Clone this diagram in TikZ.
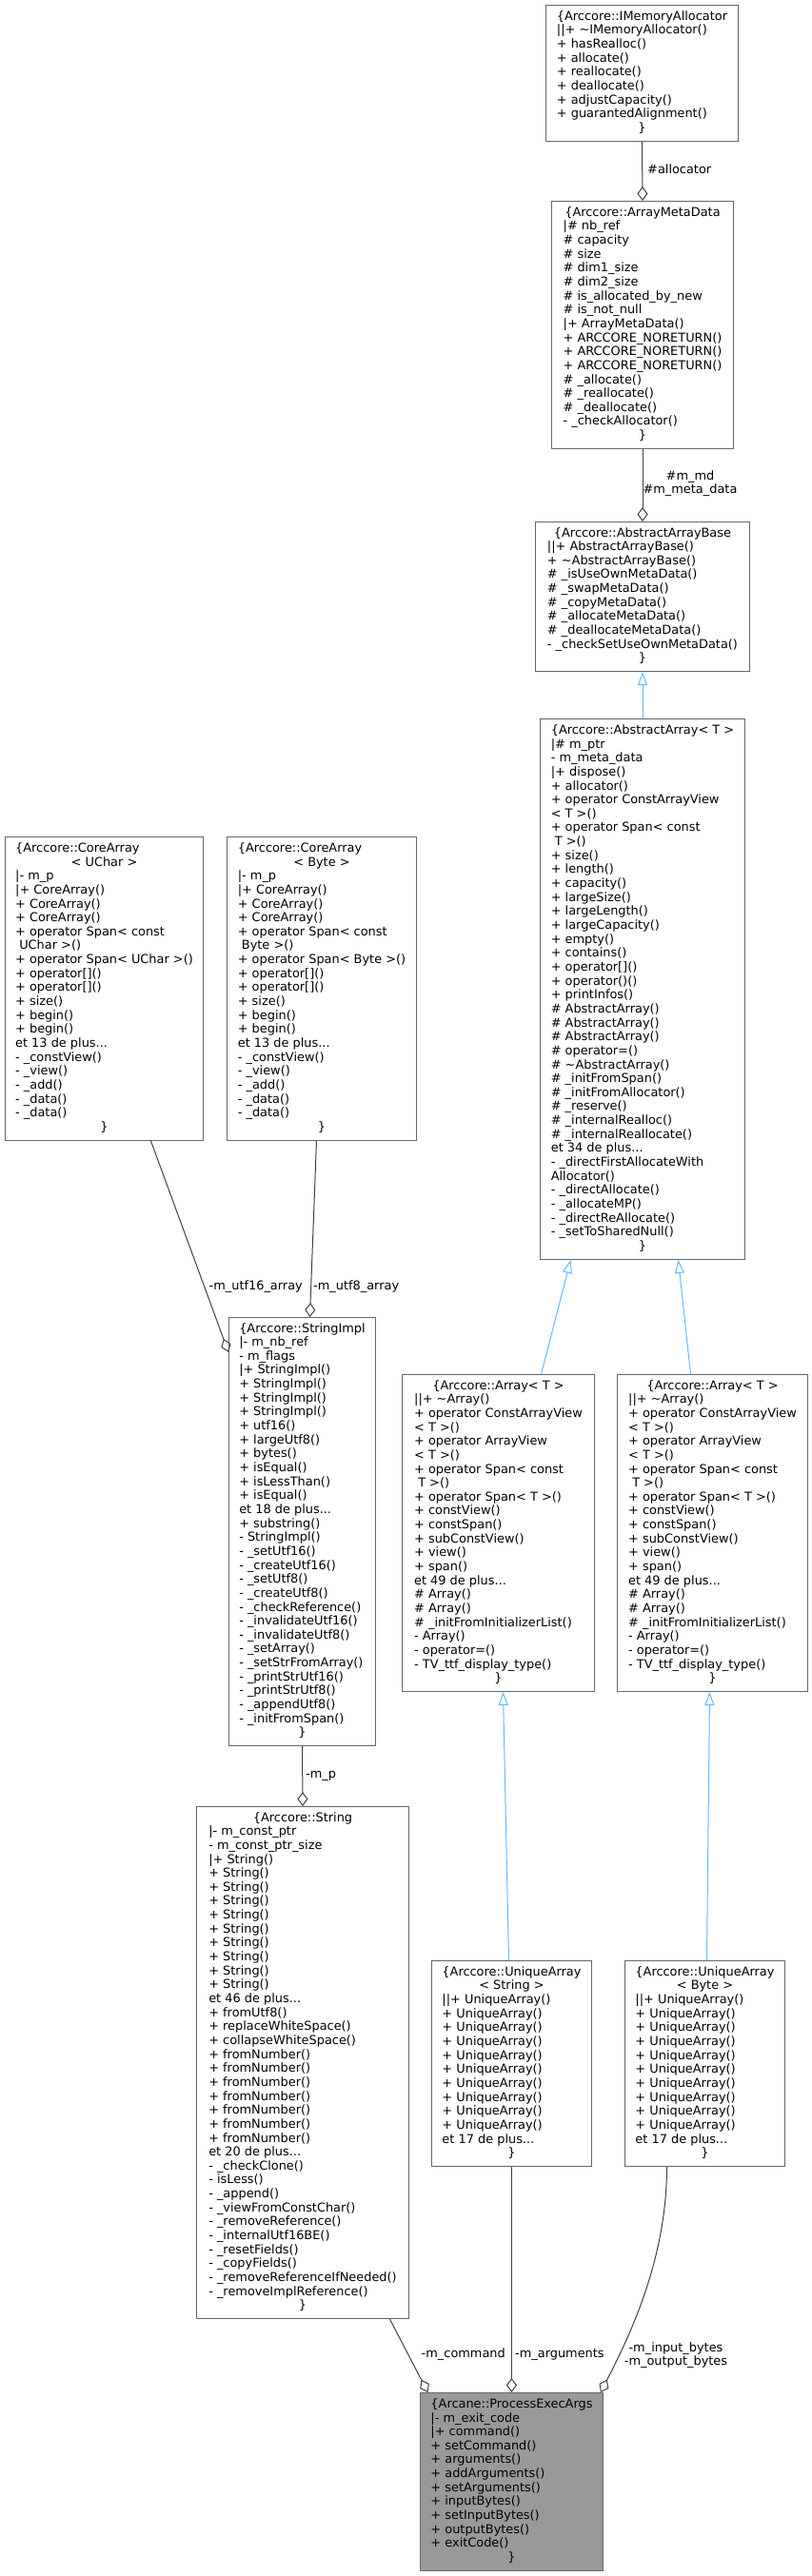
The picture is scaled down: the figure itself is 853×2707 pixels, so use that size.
\documentclass[tikz,border=0pt]{standalone}
\usepackage{fontspec}
\setmainfont{DejaVu Sans}
\usetikzlibrary{arrows.meta}
\definecolor{edgegray}{HTML}{404040}
\definecolor{inhblue}{HTML}{63B8FF}
\definecolor{boxborder}{HTML}{666666}
\definecolor{focusfill}{HTML}{999999}
\newcommand\clsT[1]{\multicolumn{1}{@{}c@{}}{#1}}
\newcommand\clsE{\multicolumn{1}{@{}c@{}}{\}}}
\newcommand\mytilde{\textasciitilde}
\newcommand\clsbody[1]{\begin{tabular}{@{}l@{}}#1\end{tabular}}
\begin{document}
\begin{tikzpicture}[x=1pt,y=-1pt,
  cls/.style={draw=boxborder, fill=white, line width=1pt, inner sep=1pt, anchor=north west,
    font=\fontsize{12.9}{14.65}\selectfont},
  focus/.style={cls, fill=focusfill},
  lbl/.style={inner sep=0pt, font=\fontsize{12.9}{14.65}\selectfont, align=center},
  aggr/.style={draw=edgegray, line width=1pt, -{Diamond[open, length=15pt, width=11pt, line width=1pt]}},
  inh/.style={draw=inhblue, line width=1pt, -{Triangle[open, length=14pt, width=10pt, line width=1pt]}}]
\useasboundingbox (0,0) rectangle (853,2707);

\node[cls, minimum width=202, minimum height=143] (imem) at (573,5) {\clsbody{
\clsT{\{Arccore::IMemoryAllocator}\\
||+ \mytilde IMemoryAllocator()\\
+ hasRealloc()\\
+ allocate()\\
+ reallocate()\\
+ deallocate()\\
+ adjustCapacity()\\
+ guarantedAlignment()\\
\clsE}};

\node[cls, minimum width=191, minimum height=260] (amd) at (579,211) {\clsbody{
\clsT{\{Arccore::ArrayMetaData}\\
|\# nb\_ref\\
\# capacity\\
\# size\\
\# dim1\_size\\
\# dim2\_size\\
\# is\_allocated\_by\_new\\
\# is\_not\_null\\
|+ ArrayMetaData()\\
+ ARCCORE\_NORETURN()\\
+ ARCCORE\_NORETURN()\\
+ ARCCORE\_NORETURN()\\
\# \_allocate()\\
\# \_reallocate()\\
\# \_deallocate()\\
- \_checkAllocator()\\
\clsE}};

\node[cls, minimum width=225, minimum height=157] (aab) at (562,548) {\clsbody{
\clsT{\{Arccore::AbstractArrayBase}\\
||+ AbstractArrayBase()\\
+ \mytilde AbstractArrayBase()\\
\# \_isUseOwnMetaData()\\
\# \_swapMetaData()\\
\# \_copyMetaData()\\
\# \_allocateMetaData()\\
\# \_deallocateMetaData()\\
- \_checkSetUseOwnMetaData()\\
\clsE}};

\node[cls, minimum width=215, minimum height=568] (aa) at (567,755) {\clsbody{
\clsT{\{Arccore::AbstractArray< T >}\\
|\# m\_ptr\\
- m\_meta\_data\\
|+ dispose()\\
+ allocator()\\
+ operator ConstArrayView\\
< T >()\\
+ operator Span< const\\
\ T >()\\
+ size()\\
+ length()\\
+ capacity()\\
+ largeSize()\\
+ largeLength()\\
+ largeCapacity()\\
+ empty()\\
+ contains()\\
+ operator[]()\\
+ operator()()\\
+ printInfos()\\
\# AbstractArray()\\
\# AbstractArray()\\
\# AbstractArray()\\
\# operator=()\\
\# \mytilde AbstractArray()\\
\# \_initFromSpan()\\
\# \_initFromAllocator()\\
\# \_reserve()\\
\# \_internalRealloc()\\
\# \_internalReallocate()\\
et 34 de plus...\\
- \_directFirstAllocateWith\\
Allocator()\\
- \_directAllocate()\\
- \_allocateMP()\\
- \_directReAllocate()\\
- \_setToSharedNull()\\
\clsE}};

\node[cls, minimum width=208, minimum height=319] (uchar) at (5,879) {\clsbody{
\{Arccore::CoreArray\\
\clsT{< UChar >}\\
|- m\_p\\
|+ CoreArray()\\
+ CoreArray()\\
+ CoreArray()\\
+ operator Span< const\\
\ UChar >()\\
+ operator Span< UChar >()\\
+ operator[]()\\
+ operator[]()\\
+ size()\\
+ begin()\\
+ begin()\\
et 13 de plus...\\
- \_constView()\\
- \_view()\\
- \_add()\\
- \_data()\\
- \_data()\\
\clsE}};

\node[cls, minimum width=199, minimum height=319] (byte) at (238,879) {\clsbody{
\{Arccore::CoreArray\\
\clsT{< Byte >}\\
|- m\_p\\
|+ CoreArray()\\
+ CoreArray()\\
+ CoreArray()\\
+ operator Span< const\\
\ Byte >()\\
+ operator Span< Byte >()\\
+ operator[]()\\
+ operator[]()\\
+ size()\\
+ begin()\\
+ begin()\\
et 13 de plus...\\
- \_constView()\\
- \_view()\\
- \_add()\\
- \_data()\\
- \_data()\\
\clsE}};

\node[cls, minimum width=154, minimum height=450] (strimpl) at (240,1384) {\clsbody{
\clsT{\{Arccore::StringImpl}\\
|- m\_nb\_ref\\
- m\_flags\\
|+ StringImpl()\\
+ StringImpl()\\
+ StringImpl()\\
+ StringImpl()\\
+ utf16()\\
+ largeUtf8()\\
+ bytes()\\
+ isEqual()\\
+ isLessThan()\\
+ isEqual()\\
et 18 de plus...\\
+ substring()\\
- StringImpl()\\
- \_setUtf16()\\
- \_createUtf16()\\
- \_setUtf8()\\
- \_createUtf8()\\
- \_checkReference()\\
- \_invalidateUtf16()\\
- \_invalidateUtf8()\\
- \_setArray()\\
- \_setStrFromArray()\\
- \_printStrUtf16()\\
- \_printStrUtf8()\\
- \_appendUtf8()\\
- \_initFromSpan()\\
\clsE}};

\node[cls, minimum width=202, minimum height=333] (arrS) at (422,1444) {\clsbody{
\clsT{\{Arccore::Array< T >}\\
||+ \mytilde Array()\\
+ operator ConstArrayView\\
< T >()\\
+ operator ArrayView\\
< T >()\\
+ operator Span< const\\
\ T >()\\
+ operator Span< T >()\\
+ constView()\\
+ constSpan()\\
+ subConstView()\\
+ view()\\
+ span()\\
et 49 de plus...\\
\# Array()\\
\# Array()\\
\# \_initFromInitializerList()\\
- Array()\\
- operator=()\\
- TV\_ttf\_display\_type()\\
\clsE}};

\node[cls, minimum width=200, minimum height=333] (arrB) at (648,1444) {\clsbody{
\clsT{\{Arccore::Array< T >}\\
||+ \mytilde Array()\\
+ operator ConstArrayView\\
< T >()\\
+ operator ArrayView\\
< T >()\\
+ operator Span< const\\
\ T >()\\
+ operator Span< T >()\\
+ constView()\\
+ constSpan()\\
+ subConstView()\\
+ view()\\
+ span()\\
et 49 de plus...\\
\# Array()\\
\# Array()\\
\# \_initFromInitializerList()\\
- Array()\\
- operator=()\\
- TV\_ttf\_display\_type()\\
\clsE}};

\node[cls, minimum width=223, minimum height=538] (str) at (206,1898) {\clsbody{
\clsT{\{Arccore::String}\\
|- m\_const\_ptr\\
- m\_const\_ptr\_size\\
|+ String()\\
+ String()\\
+ String()\\
+ String()\\
+ String()\\
+ String()\\
+ String()\\
+ String()\\
+ String()\\
+ String()\\
et 46 de plus...\\
+ fromUtf8()\\
+ replaceWhiteSpace()\\
+ collapseWhiteSpace()\\
+ fromNumber()\\
+ fromNumber()\\
+ fromNumber()\\
+ fromNumber()\\
+ fromNumber()\\
+ fromNumber()\\
+ fromNumber()\\
et 20 de plus...\\
- \_checkClone()\\
- isLess()\\
- \_append()\\
- \_viewFromConstChar()\\
- \_removeReference()\\
- \_internalUtf16BE()\\
- \_resetFields()\\
- \_copyFields()\\
- \_removeReferenceIfNeeded()\\
- \_removeImplReference()\\
\clsE}};

\node[cls, minimum width=168, minimum height=216] (uaS) at (453,2060) {\clsbody{
\clsT{\{Arccore::UniqueArray}\\
\clsT{< String >}\\
||+ UniqueArray()\\
+ UniqueArray()\\
+ UniqueArray()\\
+ UniqueArray()\\
+ UniqueArray()\\
+ UniqueArray()\\
+ UniqueArray()\\
+ UniqueArray()\\
+ UniqueArray()\\
+ UniqueArray()\\
et 17 de plus...\\
\clsE}};

\node[cls, minimum width=168, minimum height=216] (uaB) at (656,2060) {\clsbody{
\clsT{\{Arccore::UniqueArray}\\
\clsT{< Byte >}\\
||+ UniqueArray()\\
+ UniqueArray()\\
+ UniqueArray()\\
+ UniqueArray()\\
+ UniqueArray()\\
+ UniqueArray()\\
+ UniqueArray()\\
+ UniqueArray()\\
+ UniqueArray()\\
+ UniqueArray()\\
et 17 de plus...\\
\clsE}};

\node[focus, minimum width=192, minimum height=187] (pea) at (441,2514) {\clsbody{
\clsT{\{Arcane::ProcessExecArgs}\\
|- m\_exit\_code\\
|+ command()\\
+ setCommand()\\
+ arguments()\\
+ addArguments()\\
+ setArguments()\\
+ inputBytes()\\
+ setInputBytes()\\
+ outputBytes()\\
+ exitCode()\\
\clsE}};

% connectors
\draw[aggr] (imem.south) -- (amd.north);
\draw[aggr] (amd.south) -- (aab.north);
\draw[inh] (aa.north) -- (aab.south);
\draw[inh] ([xshift=45pt]arrS.north) -- ([xshift=-75.5pt]aa.south);
\draw[inh] ([xshift=-23pt]arrB.north) -- ([xshift=37.5pt]aa.south);
\draw[inh] ([xshift=-3pt]uaS.north) -- ([xshift=5pt]arrS.south);
\draw[inh] ([xshift=2pt]uaB.north) -- ([xshift=-3pt]arrB.south);
\draw[aggr] ([xshift=49pt]uchar.south) -- ([yshift=-37pt]strimpl.north west);
\draw[aggr] ([xshift=-5.5pt]byte.south) -- ([xshift=8pt]strimpl.north);
\draw[aggr] (strimpl.south) -- (str.north);
\draw[aggr] ([xshift=91.5pt]str.south) -- ([xshift=-88pt]pea.north);
\draw[aggr] (uaS.south) -- (pea.north);
\draw[aggr] ([xshift=-40pt]uaB.south) .. controls ([xshift=-40pt,yshift=-100pt]uaB.south) and ([xshift=25pt,yshift=55pt]pea.north east) .. ([xshift=-3pt]pea.north east);

% labels
\node[lbl, anchor=west] (l1) at (680,178) {\#allocator};
\node[lbl] (l2) at (725,508) {\#m\_md\\\#m\_meta\_data};
\node[lbl, anchor=east] (l3) at (318,1352) {-m\_utf16\_array};
\node[lbl, anchor=west] (l4) at (329,1352) {-m\_utf8\_array};
\node[lbl, anchor=west] (l5) at (321,1866) {-m\_p};
\node[lbl, anchor=east] (l6) at (531,2474) {-m\_command};
\node[lbl, anchor=west] (l7) at (541,2474) {-m\_arguments};
\node[lbl] (l8) at (710,2475) {-m\_input\_bytes\\-m\_output\_bytes};
\end{tikzpicture}
\end{document}
